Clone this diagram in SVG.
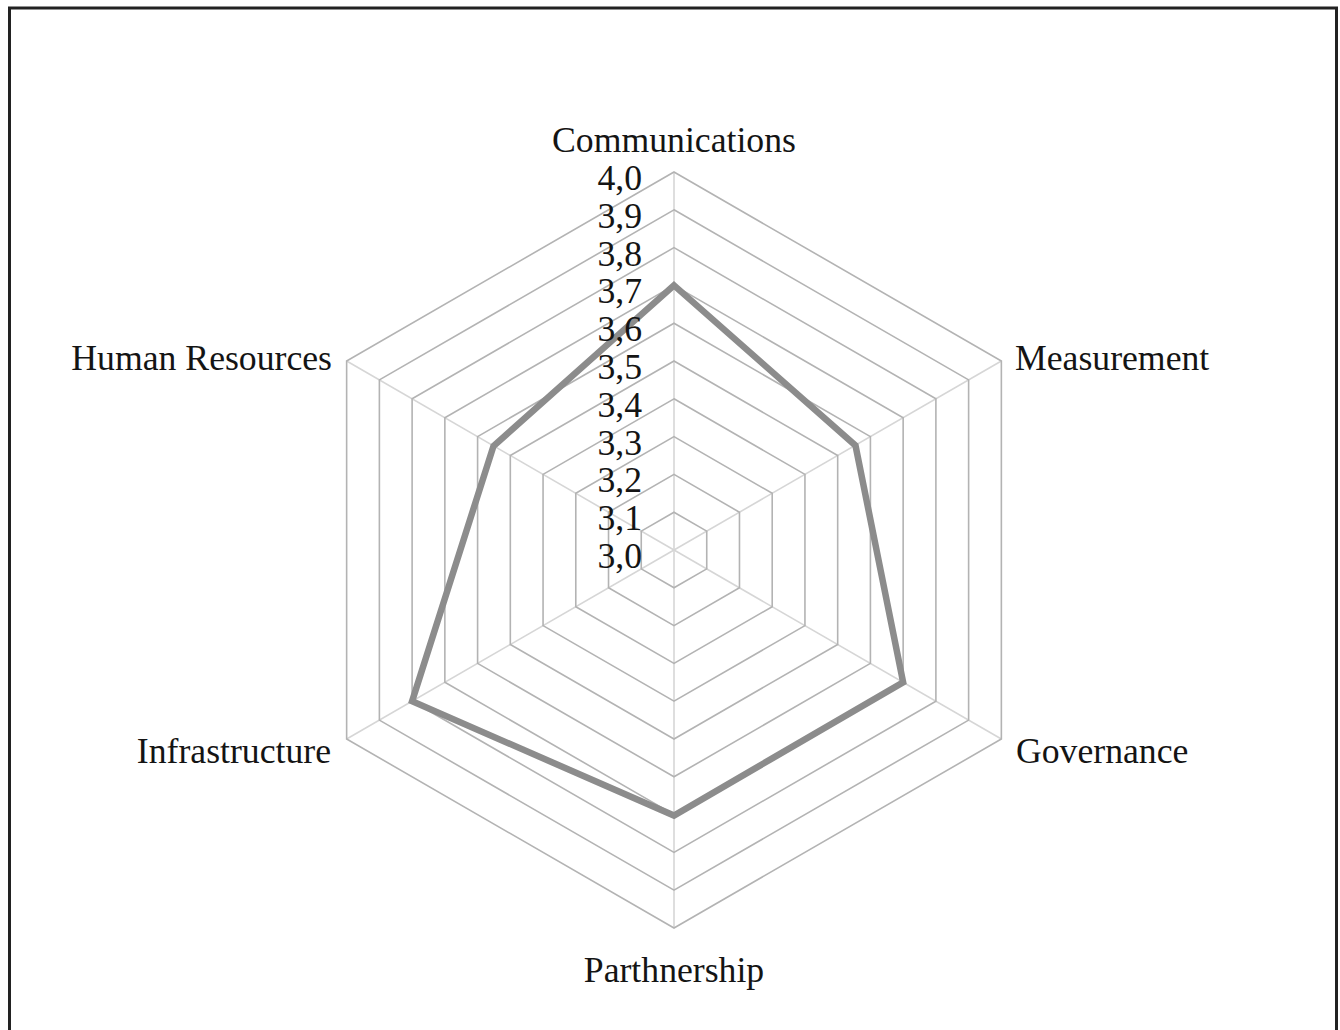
<svg xmlns="http://www.w3.org/2000/svg" width="1340" height="1030" viewBox="0 0 1340 1030">
<style>
.ring{fill:none;stroke:#b3b3b3;stroke-width:1.6}
.spoke{stroke:#d6d6d6;stroke-width:1.6}
.data{fill:none;stroke:#8c8c8c;stroke-width:6.5;stroke-linejoin:miter}
text{font-family:"Liberation Serif","Times New Roman",serif;font-size:35.7px;fill:#141414}
.tick{text-anchor:end}
</style>
<rect x="9.5" y="8" width="1327" height="1050" fill="#ffffff" stroke="#222222" stroke-width="3"/>
<g id="grid">
<g id="spokes">
<line class="spoke" x1="674" y1="550" x2="674" y2="172"/>
<line class="spoke" x1="674" y1="550" x2="1001.36" y2="361"/>
<line class="spoke" x1="674" y1="550" x2="1001.36" y2="739"/>
<line class="spoke" x1="674" y1="550" x2="674" y2="928"/>
<line class="spoke" x1="674" y1="550" x2="346.64" y2="739"/>
<line class="spoke" x1="674" y1="550" x2="346.64" y2="361"/>
</g>
<g id="rings">
<polygon class="ring" points="674,512.2 706.74,531.1 706.74,568.9 674,587.8 641.26,568.9 641.26,531.1"/>
<polygon class="ring" points="674,474.4 739.47,512.2 739.47,587.8 674,625.6 608.53,587.8 608.53,512.2"/>
<polygon class="ring" points="674,436.6 772.21,493.3 772.21,606.7 674,663.4 575.79,606.7 575.79,493.3"/>
<polygon class="ring" points="674,398.8 804.94,474.4 804.94,625.6 674,701.2 543.06,625.6 543.06,474.4"/>
<polygon class="ring" points="674,361 837.68,455.5 837.68,644.5 674,739 510.32,644.5 510.32,455.5"/>
<polygon class="ring" points="674,323.2 870.41,436.6 870.41,663.4 674,776.8 477.59,663.4 477.59,436.6"/>
<polygon class="ring" points="674,285.4 903.15,417.7 903.15,682.3 674,814.6 444.85,682.3 444.85,417.7"/>
<polygon class="ring" points="674,247.6 935.89,398.8 935.89,701.2 674,852.4 412.11,701.2 412.11,398.8"/>
<polygon class="ring" points="674,209.8 968.62,379.9 968.62,720.1 674,890.2 379.38,720.1 379.38,379.9"/>
<polygon class="ring" points="674,172 1001.36,361 1001.36,739 674,928 346.64,739 346.64,361"/>
</g>
</g>
<g id="series">
<polygon class="data" points="674,285.4 855.5,445.5 903.15,682.3 674,815.5 412.11,701.2 493.5,446"/>
</g>
<g id="axis-ticks">
<text class="tick" x="642" y="190">4,0</text>
<text class="tick" x="642" y="227.8">3,9</text>
<text class="tick" x="642" y="265.6">3,8</text>
<text class="tick" x="642" y="303.4">3,7</text>
<text class="tick" x="642" y="341.2">3,6</text>
<text class="tick" x="642" y="379">3,5</text>
<text class="tick" x="642" y="416.8">3,4</text>
<text class="tick" x="642" y="454.6">3,3</text>
<text class="tick" x="642" y="492.4">3,2</text>
<text class="tick" x="642" y="530.2">3,1</text>
<text class="tick" x="642" y="568">3,0</text>
</g>
<g id="label-communications"><text x="674" y="152" text-anchor="middle">Communications</text></g>
<g id="label-measurement"><text x="1015" y="370">Measurement</text></g>
<g id="label-governance"><text x="1016" y="763">Governance</text></g>
<g id="label-parthnership"><text x="674" y="982" text-anchor="middle">Parthnership</text></g>
<g id="label-infrastructure"><text x="331" y="763" text-anchor="end">Infrastructure</text></g>
<g id="label-human-resources"><text x="332" y="370" text-anchor="end">Human Resources</text></g>
</svg>
